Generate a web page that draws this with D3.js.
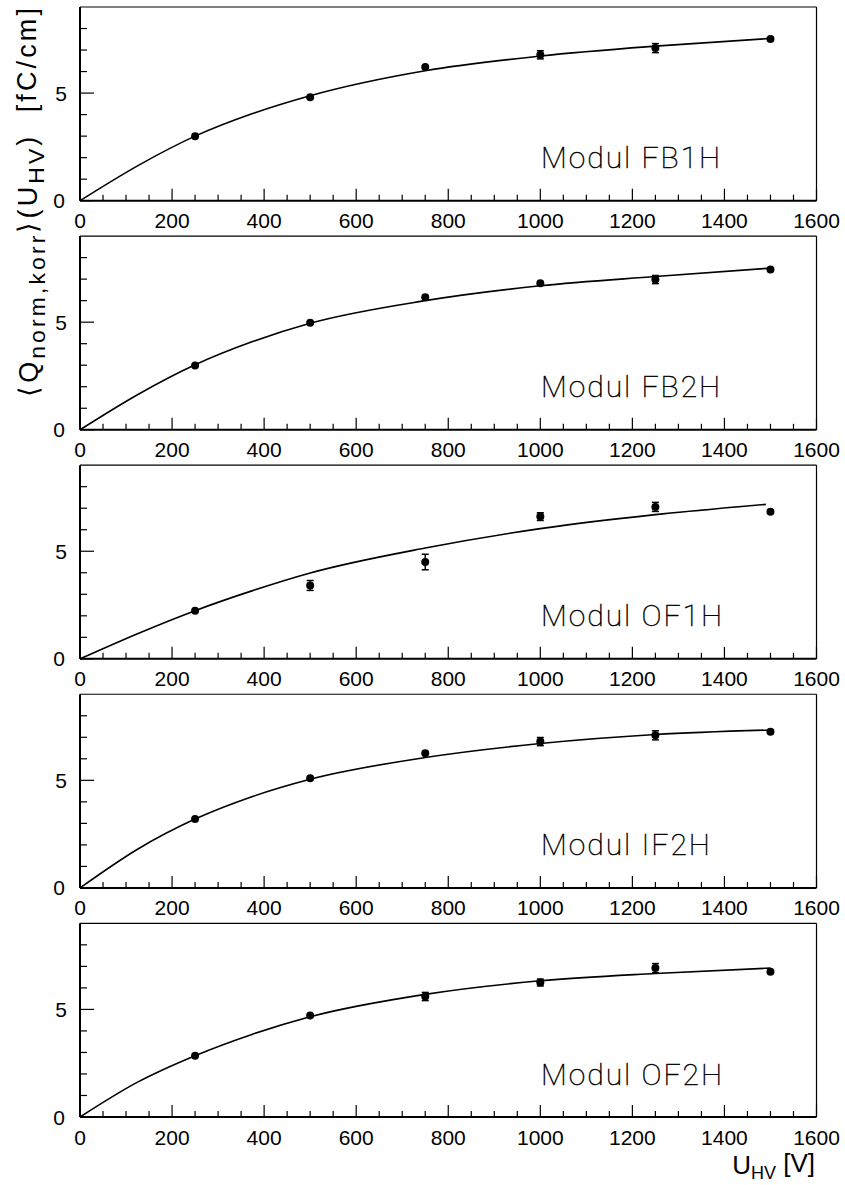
<!DOCTYPE html>
<html>
<head>
<meta charset="utf-8">
<script src="https://cdn.jsdelivr.net/npm/d3@7"></script>
<style>
  html, body { margin: 0; padding: 0; background: #fff; }
  svg { display: block; }
  .tick-label { font-family: "Liberation Sans", Arimo, Arial, Helvetica, sans-serif; font-size: 21px; fill: #000; }
  .title { font-family: "Liberation Sans", Arimo, Arial, Helvetica, sans-serif; fill: #000; }
  .module { font-family: "Roboto", "Lato", "Open Sans", sans-serif; font-weight: 100; font-size: 30px; letter-spacing: 2px; fill: #000; stroke: #000; stroke-width: 0.45px; }
</style>
</head>
<body>
<svg id="chart" width="845" height="1185"></svg>
<script>
// ---------------- data ----------------
const modules = ["FB1H", "FB2H", "OF1H", "IF2H", "OF2H"];
const voltages = [250, 500, 750, 1000, 1250, 1500];

const chargeFB1H = [3.00, 4.81, 6.21, 6.78, 7.09, 7.51];
const errorFB1H  = [0.05, 0.05, 0.05, 0.19, 0.21, 0.05];
const chargeFB2H = [2.99, 4.97, 6.16, 6.81, 6.98, 7.45];
const errorFB2H  = [0.05, 0.05, 0.05, 0.08, 0.19, 0.05];
const chargeOF1H = [2.24, 3.41, 4.50, 6.61, 7.06, 6.84];
const errorOF1H  = [0.05, 0.23, 0.36, 0.18, 0.21, 0.05];
const chargeIF2H = [3.20, 5.10, 6.26, 6.80, 7.09, 7.26];
const errorIF2H  = [0.05, 0.05, 0.05, 0.19, 0.21, 0.05];
const chargeOF2H = [2.85, 4.72, 5.60, 6.25, 6.92, 6.75];
const errorOF2H  = [0.05, 0.05, 0.19, 0.16, 0.21, 0.05];

const fitVoltages     = [0, 125, 250, 375, 500, 750, 1000, 1250, 1500];
const fitVoltagesOF1H = [0, 125, 250, 375, 500, 750, 1000, 1250, 1490];
const fitFB1H = [0, 1.62, 3.00, 4.05, 4.88, 6.04, 6.72, 7.18, 7.54];
const fitFB2H = [0, 1.63, 3.02, 4.10, 4.95, 6.00, 6.69, 7.12, 7.51];
const fitOF1H = [0, 1.17, 2.24, 3.17, 3.99, 5.15, 6.05, 6.70, 7.18];
const fitIF2H = [0, 1.80, 3.20, 4.25, 5.05, 6.06, 6.71, 7.13, 7.34];
const fitOF2H = [0, 1.62, 2.85, 3.85, 4.66, 5.70, 6.33, 6.67, 6.92];

const xTickValues = [0, 200, 400, 600, 800, 1000, 1200, 1400, 1600];
const yTickLabels = [0, 5];

const panels = [
  { name: modules[0], y: chargeFB1H, err: errorFB1H, fx: fitVoltages,     fy: fitFB1H },
  { name: modules[1], y: chargeFB2H, err: errorFB2H, fx: fitVoltages,     fy: fitFB2H },
  { name: modules[2], y: chargeOF1H, err: errorOF1H, fx: fitVoltagesOF1H, fy: fitOF1H },
  { name: modules[3], y: chargeIF2H, err: errorIF2H, fx: fitVoltages,     fy: fitIF2H },
  { name: modules[4], y: chargeOF2H, err: errorOF2H, fx: fitVoltages,     fy: fitOF2H },
];

// ---------------- layout ----------------
const svg = d3.select("#chart");
const left = 80, right = 816.5;
const top0 = 7, step = 229.08, ph = 193.7;

const x = d3.scaleLinear().domain([0, 1600]).range([left, right]);

panels.forEach((p, i) => {
  const top = top0 + i * step, bottom = top + ph;
  const y = d3.scaleLinear().domain([0, 9]).range([bottom, top]);
  const g = svg.append("g");

  // frame
  g.append("line").attr("x1", left).attr("x2", right).attr("y1", top).attr("y2", top)
    .attr("stroke", "#000").attr("stroke-width", 1.2);
  g.append("line").attr("x1", right).attr("x2", right).attr("y1", top).attr("y2", bottom)
    .attr("stroke", "#000").attr("stroke-width", 1.2);

  // x ticks (inside, upward)
  const xMinor = d3.range(0, 1601, 50);
  g.selectAll(".xt").data(xMinor).join("line")
    .attr("x1", d => x(d)).attr("x2", d => x(d))
    .attr("y1", bottom).attr("y2", d => bottom - (d % 200 === 0 ? 12 : 6))
    .attr("stroke", "#000").attr("stroke-width", 1.2);
  g.selectAll(".xl").data(xTickValues).join("text")
    .attr("class", "tick-label")
    .attr("x", d => x(d)).attr("y", bottom + 27.5)
    .attr("text-anchor", "middle")
    .text(d => d);

  // y ticks (inside, rightward)
  const yMinor = d3.range(0, 9, 1);
  g.selectAll(".yt").data(yMinor).join("line")
    .attr("x1", left).attr("x2", d => left + (d % 5 === 0 ? 14 : 7))
    .attr("y1", d => y(d)).attr("y2", d => y(d))
    .attr("stroke", "#000").attr("stroke-width", 1.2);
  g.selectAll(".yl").data(yTickLabels).join("text")
    .attr("class", "tick-label")
    .attr("x", d => d === 0 ? 65 : 67).attr("y", d => y(d) + 7.5)
    .attr("text-anchor", "end")
    .text(d => d);

  // axes lines
  g.append("line").attr("x1", left).attr("x2", right).attr("y1", bottom).attr("y2", bottom)
    .attr("stroke", "#000").attr("stroke-width", 2);
  g.append("line").attr("x1", left).attr("x2", left).attr("y1", top).attr("y2", bottom)
    .attr("stroke", "#000").attr("stroke-width", 2);

  // fit curve
  const fitData = p.fx.map((v, k) => [v, p.fy[k]]);
  g.append("path")
    .datum(fitData)
    .attr("d", d3.line().x(d => x(d[0])).y(d => y(d[1])).curve(d3.curveMonotoneX))
    .attr("fill", "none").attr("stroke", "#000").attr("stroke-width", 1.6);

  // data points with error bars
  const pts = voltages.map((v, k) => ({ v, q: p.y[k], e: p.err[k] }));
  const r = 4;
  const withErr = pts.filter(d => (y(d.q - d.e) - y(d.q + d.e)) / 2 >= 3);
  g.selectAll(".eb").data(withErr).join("line")
    .attr("x1", d => x(d.v)).attr("x2", d => x(d.v))
    .attr("y1", d => y(d.q - d.e)).attr("y2", d => y(d.q + d.e))
    .attr("stroke", "#000").attr("stroke-width", 1.5);
  g.selectAll(".ec1").data(withErr).join("line")
    .attr("x1", d => x(d.v) - 3.5).attr("x2", d => x(d.v) + 3.5)
    .attr("y1", d => y(d.q - d.e)).attr("y2", d => y(d.q - d.e))
    .attr("stroke", "#000").attr("stroke-width", 1.5);
  g.selectAll(".ec2").data(withErr).join("line")
    .attr("x1", d => x(d.v) - 3.5).attr("x2", d => x(d.v) + 3.5)
    .attr("y1", d => y(d.q + d.e)).attr("y2", d => y(d.q + d.e))
    .attr("stroke", "#000").attr("stroke-width", 1.5);
  g.selectAll(".pt").data(pts).join("circle")
    .attr("cx", d => x(d.v)).attr("cy", d => y(d.q)).attr("r", r)
    .attr("fill", "#000");

  // module label
  g.append("text").attr("class", "module")
    .attr("x", 541).attr("y", bottom - 32.5)
    .text("Modul " + p.name);
});

// y axis title (spread so that it spans the height seen in the reference)
const yt = svg.append("text").attr("class", "title")
  .attr("transform", "translate(38,5) rotate(-90)")
  .attr("text-anchor", "end")
  .style("font-size", "27px");
yt.append("tspan").text("\u27E8Q");
yt.append("tspan").attr("dy", "0.3em").style("font-size", "0.85em").text("norm,korr");
yt.append("tspan").attr("dy", "-0.3em").text("\u27E9(U");
yt.append("tspan").attr("dy", "0.3em").style("font-size", "0.85em").text("HV");
yt.append("tspan").attr("dy", "-0.3em").text(")\u00A0\u00A0[fC/cm]");
const natural = yt.node().getComputedTextLength();
const nChars = yt.text().length;
yt.style("letter-spacing", Math.max(0, (392 - natural) / nChars) + "px");

// x axis title
const xt = svg.append("text").attr("class", "title")
  .attr("x", 815).attr("y", 1174)
  .attr("text-anchor", "end")
  .style("font-size", "26px");
xt.append("tspan").text("U");
xt.append("tspan").attr("dy", "0.3em").style("font-size", "18px").text("HV");
xt.append("tspan").attr("dy", "-0.3em").text(" [V]");
</script>
</body>
</html>
